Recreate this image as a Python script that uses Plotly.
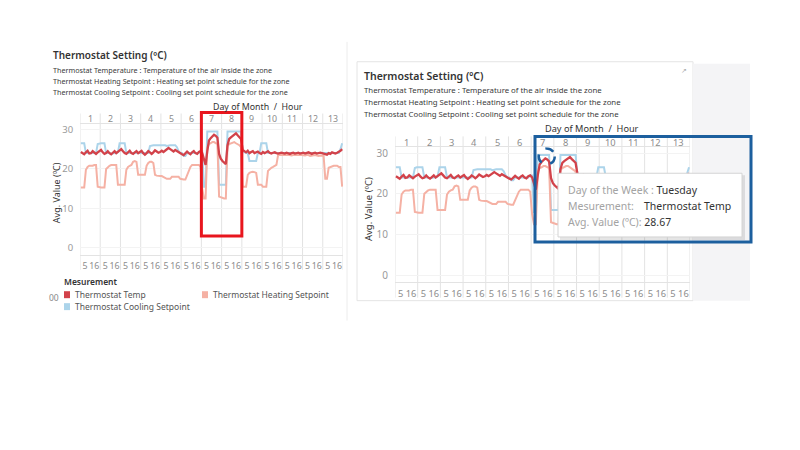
import plotly.graph_objects as go

# ---------------- data ----------------
days = list(range(1, 14))
hours = [0, 2, 4, 6, 8, 10, 12, 14, 16, 18, 20, 22]
hour_ticks = [5, 16]

temp = [
    [24.3, 24.0, 23.7, 24.2, 24.6, 23.9, 24.0, 24.5, 24.1, 23.8, 24.2, 24.6],
    [24.8, 24.2, 23.8, 24.0, 24.5, 24.0, 23.7, 24.1, 24.5, 24.0, 24.3, 24.7],
    [25.0, 24.5, 24.0, 23.8, 24.3, 24.6, 24.0, 23.8, 24.2, 24.5, 24.0, 24.2],
    [24.6, 24.0, 23.6, 24.0, 24.5, 24.2, 23.8, 24.2, 24.7, 24.4, 24.1, 24.3],
    [24.6, 24.3, 24.7, 25.0, 25.3, 25.0, 24.6, 24.4, 24.8, 24.5, 24.1, 23.9],
    [23.7, 23.5, 24.0, 24.4, 24.0, 23.7, 24.2, 24.5, 24.0, 23.8, 24.3, 24.5],
    [24.0, 22.3, 21.0, 24.5, 27.2, 27.8, 28.2, 28.67, 28.4, 27.9, 23.8, 22.6],
    [22.0, 21.5, 21.2, 26.0, 27.6, 28.0, 28.4, 28.8, 29.0, 28.5, 28.1, 27.6],
    [24.8, 24.5, 24.2, 24.6, 24.0, 24.3, 24.5, 24.0, 24.2, 24.4, 24.0, 23.8],
    [24.3, 24.0, 24.2, 24.5, 24.1, 23.9, 24.1, 24.2, 24.0, 23.9, 24.0, 24.1],
    [24.0, 23.9, 24.1, 24.0, 23.8, 24.0, 24.1, 23.9, 24.0, 24.1, 23.9, 24.0],
    [24.1, 23.9, 24.0, 24.2, 24.0, 23.8, 24.0, 24.1, 23.9, 24.0, 24.1, 24.0],
    [23.9, 23.7, 23.6, 24.0, 23.8, 24.2, 24.0, 23.9, 24.1, 24.3, 24.6, 25.0],
]
heat = [
    [15.3, 15.3, 15.3, 19.8, 20.5, 20.8, 20.8, 20.8, 21.0, 21.0, 15.5, 15.3],
    [15.3, 15.3, 15.3, 20.0, 20.5, 20.8, 21.0, 21.0, 21.0, 21.0, 16.0, 16.0],
    [16.0, 16.0, 16.0, 19.8, 20.5, 20.8, 21.0, 21.8, 22.0, 21.8, 18.5, 18.5],
    [18.5, 18.5, 18.5, 20.8, 21.5, 21.8, 21.8, 21.5, 18.5, 18.3, 18.2, 18.2],
    [18.2, 18.0, 17.6, 17.5, 17.5, 17.5, 18.0, 18.0, 18.0, 18.0, 18.0, 17.5],
    [17.3, 17.3, 17.3, 18.5, 19.5, 20.5, 21.0, 21.0, 21.0, 21.0, 21.0, 20.5],
    [15.0, 12.5, 12.5, 25.5, 26.3, 26.5, 26.8, 26.8, 26.5, 26.3, 13.0, 12.8],
    [12.8, 12.5, 12.5, 25.8, 26.3, 26.5, 26.8, 26.8, 26.5, 26.3, 26.0, 25.5],
    [15.5, 15.5, 15.5, 18.5, 19.0, 19.2, 19.3, 19.2, 19.0, 16.0, 16.0, 16.0],
    [15.5, 15.5, 15.5, 19.5, 20.0, 20.3, 20.5, 20.8, 21.0, 23.5, 23.5, 23.5],
    [23.5, 23.4, 23.5, 23.6, 23.5, 23.4, 23.5, 23.5, 23.4, 23.5, 23.6, 23.5],
    [23.5, 23.4, 23.5, 23.5, 23.3, 23.4, 23.5, 23.5, 23.4, 23.3, 23.4, 23.3],
    [23.3, 17.5, 17.5, 20.3, 20.5, 20.5, 20.8, 20.8, 20.8, 20.5, 20.5, 15.5],
]
cool = [
    [26.5, 26.5, 26.5, 24.0, 24.0, 24.0, 24.0, 24.0, 24.0, 24.0, 26.3, 26.5],
    [26.5, 26.5, 26.5, 24.0, 24.0, 24.0, 23.8, 24.0, 24.0, 24.0, 24.2, 26.5],
    [26.5, 26.5, 26.5, 24.0, 24.0, 24.0, 24.0, 24.0, 24.0, 24.0, 24.0, 24.0],
    [24.0, 24.0, 24.0, 24.0, 24.0, 25.8, 26.0, 26.0, 26.0, 26.0, 26.0, 26.0],
    [26.0, 26.0, 26.0, 25.8, 26.0, 26.0, 26.0, 26.0, 26.0, 25.5, 24.5, 24.0],
    [24.0, 23.3, 23.3, 24.0, 24.0, 24.0, 24.0, 24.0, 24.0, 24.0, 24.0, 24.5],
    [24.5, 15.5, 15.5, 29.5, 29.5, 29.5, 29.5, 29.5, 29.5, 29.5, 16.0, 16.0],
    [16.0, 16.0, 16.0, 29.5, 29.5, 29.5, 29.5, 29.5, 29.5, 29.5, 29.5, 29.5],
    [24.5, 24.2, 24.0, 24.0, 22.0, 22.0, 22.0, 22.0, 22.0, 24.0, 24.0, 26.5],
    [26.5, 26.5, 26.5, 24.0, 24.0, 24.0, 24.0, 24.0, 24.0, 24.0, 24.0, 24.0],
    [24.0, 24.0, 24.0, 24.0, 24.0, 24.0, 24.0, 24.0, 24.0, 24.0, 24.0, 24.0],
    [24.0, 24.0, 24.0, 23.9, 24.0, 24.0, 24.0, 24.0, 23.9, 24.0, 24.0, 24.0],
    [24.0, 24.0, 24.0, 24.0, 24.0, 24.0, 24.0, 24.0, 24.0, 24.0, 25.0, 26.5],
]

series_names = ["Thermostat Temp", "Thermostat Heating Setpoint", "Thermostat Cooling Setpoint"]
series_colors = ["#d2424a", "#f5b1a4", "#acd4ea"]

title_text = "Thermostat Setting (ºC)"
desc_lines = [
    "Thermostat Temperature : Temperature of the air inside the zone",
    "Thermostat Heating Setpoint : Heating set point schedule for the zone",
    "Thermostat Cooling Setpoint : Cooling set point schedule for the zone",
]
legend_title = "Mesurement"
y_ticks = [0, 10, 20, 30]
tooltip_day = "Tuesday"
tooltip_series = "Thermostat Temp"
tooltip_value = 28.67

# ---------------- helpers ----------------
W, H = 800, 450
FONT = "Noto Sans"


def px(x):
    return x / W


def py(y):
    return 1 - y / H


xs = [(d - 1) * 24 + h for d in days for h in hours]


def flat(rows):
    return [v for r in rows for v in r]


xmin, xmax = -1, len(days) * 24 - 1
tick_x = [(d - 1) * 24 + h for d in days for h in hour_ticks]
tick_t = [str(h) for d in days for h in hour_ticks]
center_x = [(d - 1) * 24 + 11 for d in days]
bounds = [i * 24 - 1 for i in range(len(days) + 1)]

fig = go.Figure()
order = [2, 1, 0]  # cooling, heating, temp on top
data_sets = [temp, heat, cool]
for xa, ya in [("x", "y"), ("x2", "y2")]:
    for i in order:
        fig.add_trace(go.Scatter(
            x=xs, y=flat(data_sets[i]), mode="lines", name=series_names[i],
            line=dict(color=series_colors[i], width=2.3 if i == 0 else 2),
            xaxis=xa, yaxis=ya, showlegend=False, hoverinfo="skip"))

# panel geometry (pixels)
panels = {
    "L": dict(x0=80, x1=343, ytop=123, ybot=254, v30=128, v0=247, day_y=118,
              sep_top=112, sep_bot=269, tick_fs=8.8, yt_fs=9.5),
    "R": dict(x0=395, x1=690, ytop=146, ybot=281, v30=151.7, v0=274.3, day_y=141,
              sep_top=135, sep_bot=297, tick_fs=9.3, yt_fs=10),
}


def yrange(p):
    k = (p["v0"] - p["v30"]) / 30.0
    return [-(p["ybot"] - p["v0"]) / k, 30 + (p["v30"] - p["ytop"]) / k]


layout = dict(width=W, height=H, margin=dict(l=0, r=0, t=0, b=0),
              paper_bgcolor="white", plot_bgcolor="white",
              font=dict(family=FONT, color="#333"), showlegend=False)

annotations = []

for key, (xn, yn) in {"L": ("xaxis", "yaxis"), "R": ("xaxis2", "yaxis2")}.items():
    p = panels[key]
    ysuf = "y" if key == "L" else "y2"
    xsuf = "x" if key == "L" else "x2"
    layout[xn] = dict(range=[xmin, xmax], showgrid=False, zeroline=False,
                      ticks="outside", ticklen=3, tickcolor="rgba(0,0,0,0)",
                      showline=True, linecolor="#e3e3e3", linewidth=1, mirror=True,
                      tickangle=0, domain=[px(p["x0"]), px(p["x1"])], anchor=ysuf,
                      tickvals=tick_x, ticktext=tick_t,
                      tickfont=dict(size=p["tick_fs"], color="#8c8c8c", family=FONT))
    layout[yn] = dict(domain=[py(p["ybot"]), py(p["ytop"])], range=yrange(p),
                      anchor=xsuf, tickvals=y_ticks, showgrid=True, gridcolor="#f3f3f3",
                      zeroline=False, showline=False, ticks="outside", ticklen=4,
                      tickcolor="rgba(0,0,0,0)",
                      tickfont=dict(size=p["yt_fs"], color="#9a9a9a", family=FONT))
    # top header: day numbers
    for d, cx in zip(days, center_x):
        annotations.append(dict(xref=xsuf, yref="paper", x=cx, y=py(p["day_y"]),
                                text=str(d), showarrow=False, xanchor="center",
                                yanchor="middle",
                                font=dict(size=p["tick_fs"], color="#8c8c8c", family=FONT)))

shapes = []
# background decorations
shapes.append(dict(type="line", xref="paper", yref="paper", x0=px(347), x1=px(347),
                   y0=py(40), y1=py(320), line=dict(color="#ececec", width=1), layer="below"))
shapes.append(dict(type="rect", xref="paper", yref="paper", x0=px(357), x1=px(693),
                   y0=py(300), y1=py(60), line=dict(color="#e4e4e4", width=1),
                   fillcolor="white", layer="below"))
shapes.append(dict(type="rect", xref="paper", yref="paper", x0=px(693), x1=px(750),
                   y0=py(300), y1=py(62), line=dict(width=0),
                   fillcolor="#f4f4f6", layer="below"))

# day separators
for key, xr in [("L", "x"), ("R", "x2")]:
    p = panels[key]
    for b in bounds:
        shapes.append(dict(type="line", xref=xr, yref="paper", x0=b, x1=b,
                           y0=py(p["sep_bot"]), y1=py(p["sep_top"]),
                           line=dict(color="#e3e3e3", width=1), layer="below"))

# red highlight box on the left (days 7-8)
shapes.append(dict(type="rect", xref="x", yref="paper", x0=bounds[6], x1=bounds[8],
                   y0=py(235), y1=py(111), line=dict(color="#e8161e", width=3),
                   fillcolor="rgba(0,0,0,0)", layer="above"))

# tooltip on the right
shapes.append(dict(type="rect", xref="paper", yref="paper", x0=px(560), x1=px(745),
                   y0=py(239), y1=py(174), line=dict(width=0),
                   fillcolor="rgba(0,0,0,0.10)", layer="above"))
shapes.append(dict(type="rect", xref="paper", yref="paper", x0=px(558), x1=px(742),
                   y0=py(236), y1=py(172), line=dict(color="#d4d4d4", width=1),
                   fillcolor="white", layer="above"))
# blue highlight box
shapes.append(dict(type="rect", xref="paper", yref="paper", x0=px(535), x1=px(751),
                   y0=py(241), y1=py(135), line=dict(color="#1c5f9e", width=3),
                   fillcolor="rgba(0,0,0,0)", layer="above"))
# dashed circle around the highlighted point
peak_i = flat(temp).index(tooltip_value)
shapes.append(dict(type="circle", xref="x2", yref="y2", xsizemode="pixel", ysizemode="pixel",
                   xanchor=xs[peak_i] + 1.5, yanchor=tooltip_value, x0=-8, x1=8, y0=-6, y1=10,
                   line=dict(color="#1c5f9e", width=2.5, dash="dash"), layer="above"))

# legend squares
leg_items = [(0, 64, 294), (1, 202, 294), (2, 64, 306)]
for i, lx, ly in leg_items:
    shapes.append(dict(type="rect", xref="paper", yref="paper", x0=px(lx), x1=px(lx + 6),
                       y0=py(ly + 3.5), y1=py(ly - 3.5), line=dict(width=0),
                       fillcolor=series_colors[i]))


def txt(x, y, text, size, color="#333", xanchor="left", bold=False, angle=0):
    annotations.append(dict(xref="paper", yref="paper", x=px(x), y=py(y), text=text,
                            showarrow=False, xanchor=xanchor, yanchor="middle",
                            textangle=angle,
                            font=dict(size=size, color=color, family=FONT,
                                      weight=600 if bold else 400)))


# left panel texts
txt(51, 53, title_text, 10, "#333", bold=True)
for k, line in enumerate(desc_lines):
    txt(51, 68 + 11 * k, line, 7.2, "#3a3a3a")
txt(211, 105.5, "Day of Month  /  Hour", 8.8, "#333")
txt(56, 192, "Avg. Value (ºC)", 9, "#333", xanchor="center", angle=-90)

# right panel texts
txt(362, 74, title_text, 10.5, "#333", bold=True)
for k, line in enumerate(desc_lines):
    txt(362, 88 + 12 * k, line, 7.8, "#3a3a3a")
txt(543, 127.5, "Day of Month  /  Hour", 9.2, "#333")
txt(368, 208, "Avg. Value (ºC)", 9.5, "#333", xanchor="center", angle=-90)
txt(684, 69, "↗", 7, "#aaaaaa", xanchor="center")

# legend texts
txt(62, 281, legend_title, 8.5, "#333", bold=True)
for i, lx, ly in leg_items:
    txt(lx + 9, ly, series_names[i], 8.5, "#555")
txt(47, 297, "00", 8.5, "#888")

# tooltip texts
txt(566, 189, "<span style='color:#a3a3a3'>Day of the Week : </span>" + tooltip_day, 10.5, "#333")
txt(566, 205, "Mesurement:", 10.5, "#a3a3a3")
txt(642, 205, tooltip_series, 10.5, "#333")
txt(566, 221, "<span style='color:#a3a3a3'>Avg. Value (ºC): </span>" + f"{tooltip_value:.2f}",
    10.5, "#333")

layout["shapes"] = shapes
layout["annotations"] = annotations
fig.update_layout(**layout)
fig.write_html("out.html")
